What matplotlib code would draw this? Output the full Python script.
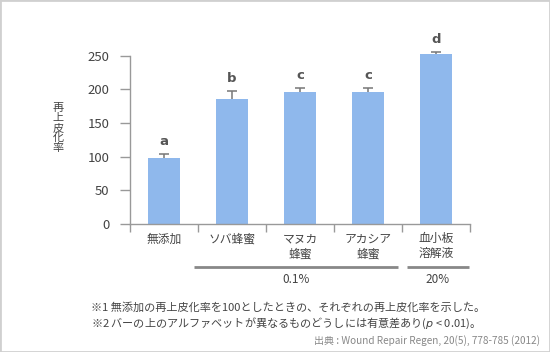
import matplotlib
matplotlib.use("Agg")
import matplotlib.pyplot as plt
from matplotlib.patches import Rectangle

plt.rcParams["font.family"] = ["Noto Sans CJK JP", "DejaVu Sans"]
plt.rcParams["mathtext.fontset"] = "dejavusans"

# data
categories = ["無添加", "ソバ蜂蜜", "マヌカ\n蜂蜜", "アカシア\n蜂蜜", "血小板\n溶解液"]
values = [98, 185, 196, 196, 252]
errors = [6, 13, 6, 6, 4]
letters = ["a", "b", "c", "c", "d"]
yticks = [0, 50, 100, 150, 200, 250]
groups = [("0.1%", 1, 3), ("20%", 4, 4)]

BAR = "#8fb8ec"
AXIS = "#999999"
TXT = "#444444"

fig = plt.figure(figsize=(5.5, 3.52), dpi=100)
ax = fig.add_axes([130 / 550, 1 - 223.7 / 352, 340 / 550, (223.7 - 55.7) / 352])

x = list(range(len(categories)))
ax.bar(x, values, width=0.46, color=BAR, zorder=2, clip_on=False)
# upper-only error bars
tops = [v + e for v, e in zip(values, errors)]
ax.vlines(x, values, tops, color="#777777", lw=1.1, zorder=3, clip_on=False)
ax.hlines(tops, [xi - 0.07 for xi in x], [xi + 0.07 for xi in x],
          color="#777777", lw=1.1, zorder=3, clip_on=False)
for xi, t, l in zip(x, tops, letters):
    ax.text(xi, t + 9, l, ha="center", va="bottom", fontsize=9.5,
            fontweight="bold", color="#555555", family="DejaVu Sans")

ax.set_xlim(-0.5, 4.5)
ax.set_ylim(0, 250)
ax.set_yticks(yticks)
ax.set_xticks([i - 0.5 for i in range(len(categories) + 1)])
ax.set_xticklabels([])
for s in ["top", "right"]:
    ax.spines[s].set_visible(False)
for s in ["left", "bottom"]:
    ax.spines[s].set_color(AXIS)
    ax.spines[s].set_linewidth(1.0)
ax.tick_params(axis="y", direction="out", length=7, width=1, color=AXIS,
               labelsize=9.5, labelcolor=TXT, pad=8)
ax.tick_params(axis="x", direction="out", length=6, width=1, color=AXIS)

# category labels
for xi, c in zip(x, categories):
    ax.text(xi, -13, c, ha="center", va="top", fontsize=8.5, color=TXT,
            linespacing=1.2)

# concentration group lines
line_pad = [(0.56, 0.44), (0.43, 0.49)]
for (label, a, b), (pl, pr) in zip(groups, line_pad):
    ax.plot([a - pl, b + pr], [-64, -64], color="#888888", lw=2,
            clip_on=False, solid_capstyle="butt")
    ax.text((a - pl + b + pr) / 2, -73, label, ha="center", va="top",
            fontsize=8.5, color=TXT)

fig.text(58 / 550, 1 - 128 / 352, "\n".join("再上皮化率"), ha="center", va="center",
         fontsize=8, color=TXT, linespacing=1.0)

fig.text(91 / 550, 1 - 307 / 352, "※1 無添加の再上皮化率を100としたときの、それぞれの再上皮化率を示した。",
         ha="left", va="center", fontsize=8, color=TXT)
fig.text(91 / 550, 1 - 323 / 352,
         "※2 バーの上のアルファベットが異なるものどうしには有意差あり($\\it{p}$ < 0.01)。",
         ha="left", va="center", fontsize=8, color=TXT)
fig.text(540 / 550, 1 - 341 / 352, "出典 : Wound Repair Regen, 20(5), 778-785 (2012)",
         ha="right", va="center", fontsize=7.2, color="#888888")

fig.patches.append(Rectangle((0, 0), 1, 1, transform=fig.transFigure, fill=False,
                             edgecolor="#d0d0d0", linewidth=2))

fig.savefig("out.png", dpi=100)
